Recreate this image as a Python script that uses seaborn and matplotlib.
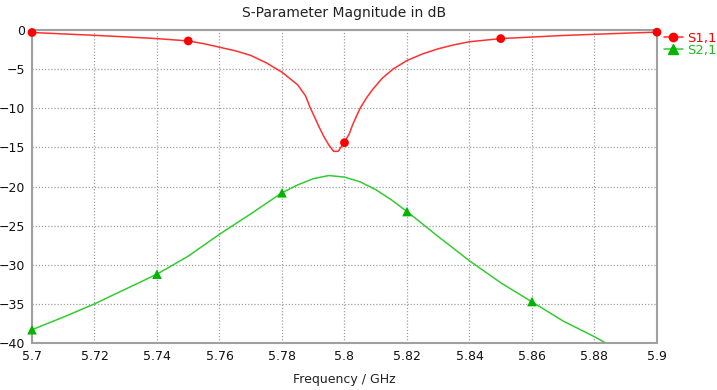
import matplotlib
matplotlib.use("Agg")
import matplotlib.pyplot as plt
from matplotlib.lines import Line2D
from matplotlib.ticker import FormatStrFormatter, MultipleLocator
import pandas as pd
import seaborn as sns

# S1,1 curve (frequency in GHz, magnitude in dB)
s11_freq = [5.70, 5.71, 5.72, 5.73, 5.74, 5.75, 5.755, 5.76, 5.765, 5.77,
            5.775, 5.78, 5.785, 5.7875, 5.789, 5.7905, 5.792, 5.7935, 5.795,
            5.7965, 5.798, 5.799, 5.80, 5.8015, 5.8026, 5.805, 5.807, 5.809,
            5.812, 5.8155, 5.82, 5.825, 5.83, 5.835, 5.84, 5.85, 5.86, 5.87,
            5.88, 5.89, 5.90]
s11_db = [-0.32, -0.5, -0.68, -0.88, -1.1, -1.4, -1.75, -2.2, -2.65, -3.25,
          -4.2, -5.4, -7.0, -8.4, -9.9, -11.2, -12.5, -13.7, -14.7,
          -15.5, -15.5, -14.9, -14.3, -13.3, -12.1, -10.0, -8.7, -7.6,
          -6.2, -5.0, -3.9, -3.05, -2.4, -1.9, -1.5, -1.1, -0.9, -0.7,
          -0.55, -0.4, -0.28]
s11_mark_freq = [5.70, 5.75, 5.80, 5.85, 5.90]
s11_mark_db = [-0.32, -1.4, -14.4, -1.1, -0.28]

# S2,1 curve
s21_freq = [5.70, 5.71, 5.72, 5.73, 5.74, 5.75, 5.76, 5.77, 5.78, 5.785,
            5.79, 5.795, 5.80, 5.805, 5.81, 5.815, 5.82, 5.83, 5.84, 5.85,
            5.86, 5.87, 5.88, 5.8836]
s21_db = [-38.3, -36.7, -35.0, -33.1, -31.2, -28.9, -26.1, -23.5, -20.8, -19.8,
          -19.0, -18.6, -18.8, -19.4, -20.4, -21.7, -23.2, -26.4, -29.5, -32.3,
          -34.75, -37.2, -39.2, -40.0]
s21_mark_freq = [5.70, 5.74, 5.78, 5.82, 5.86]
s21_mark_db = [-38.3, -31.2, -20.8, -23.2, -34.7]

x_ticks = [5.70, 5.72, 5.74, 5.76, 5.78, 5.80, 5.82, 5.84, 5.86, 5.88, 5.90]

RED_LINE = "#ff3030"
RED_MARK = "#ff0000"
GREEN_LINE = "#33cc33"
GREEN_MARK = "#00b400"
GRAY = "#a0a0a0"

sns.set_style("white")
plt.rcParams["font.family"] = ["DejaVu Sans"]

df11 = pd.DataFrame({"freq": s11_freq, "db": s11_db})
df21 = pd.DataFrame({"freq": s21_freq, "db": s21_db})
m11 = pd.DataFrame({"freq": s11_mark_freq, "db": s11_mark_db})
m21 = pd.DataFrame({"freq": s21_mark_freq, "db": s21_mark_db})

fig = plt.figure(figsize=(7.17, 3.9), dpi=100)
ax = fig.add_axes([32 / 717, 47 / 390, 625 / 717, 313 / 390])

sns.lineplot(data=df11, x="freq", y="db", ax=ax, color=RED_LINE, linewidth=1.1,
             estimator=None, sort=False, clip_on=False)
sns.lineplot(data=df21, x="freq", y="db", ax=ax, color=GREEN_LINE, linewidth=1.1,
             estimator=None, sort=False)
sns.scatterplot(data=m11, x="freq", y="db", ax=ax, color=RED_MARK, marker="o",
                s=40, edgecolor="none", clip_on=False, zorder=5)
sns.scatterplot(data=m21, x="freq", y="db", ax=ax, color=GREEN_MARK, marker="^",
                s=48, edgecolor="none", clip_on=False, zorder=5)

ax.set_xlim(5.7, 5.9)
ax.set_ylim(-40, 0)
ax.set_xticks(x_ticks)
ax.xaxis.set_major_formatter(FormatStrFormatter("%g"))
ax.yaxis.set_major_locator(MultipleLocator(5))

ax.grid(True, color=GRAY, linestyle=(0, (1, 1.5)), linewidth=0.9)
for spine in ax.spines.values():
    spine.set_color(GRAY)
    spine.set_linewidth(1.5)
ax.tick_params(axis="both", length=3, color=GRAY, labelsize=9, pad=2,
               labelcolor="#111111")

ax.set_title("S-Parameter Magnitude in dB", fontsize=10, color="#222222", pad=9)
ax.set_xlabel("Frequency / GHz", fontsize=9, color="#222222", labelpad=7)
ax.set_ylabel("")

handles = [
    Line2D([], [], color=RED_LINE, marker="o", markerfacecolor=RED_MARK,
           markeredgecolor=RED_MARK, markersize=6, linewidth=1.1),
    Line2D([], [], color=GREEN_LINE, marker="^", markerfacecolor=GREEN_MARK,
           markeredgecolor=GREEN_MARK, markersize=6.5, linewidth=1.1),
]
leg = ax.legend(handles, ["S1,1", "S2,1"], loc="upper left",
                bbox_to_anchor=(1.0, 1.016), frameon=False, fontsize=9.5,
                handlelength=1.5, handletextpad=0.25, labelspacing=-0.08,
                borderaxespad=0.3, borderpad=0.2)
for text, col in zip(leg.get_texts(), [RED_MARK, "#22bb22"]):
    text.set_color(col)

fig.savefig("out.png", dpi=100)
